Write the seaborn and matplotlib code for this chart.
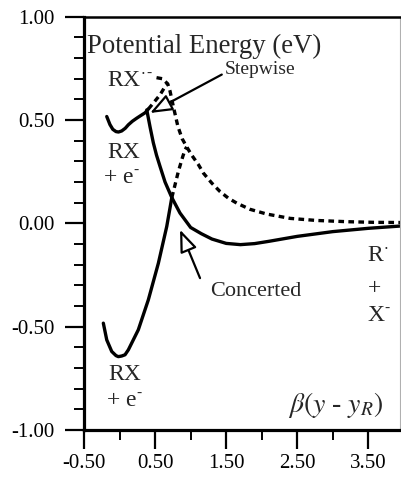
import matplotlib
matplotlib.use("Agg")
import matplotlib.pyplot as plt
import seaborn as sns
from matplotlib.ticker import FixedLocator, MultipleLocator

# Reaction coordinate beta(y - y_R) and potential energy (eV) of each branch

# RX + e-, upper (stepwise) diabatic curve, solid part
upper_rx_x = [-0.18, -0.135, -0.095, -0.05, -0.015, 0.03, 0.08, 0.124, 0.18, 0.242, 0.30, 0.359, 0.405]
upper_rx_y = [0.517, 0.478, 0.455, 0.444, 0.442, 0.447, 0.46, 0.477, 0.494, 0.509, 0.522, 0.535, 0.553]
# its dotted continuation up to the RX.- curve
upper_rx_ext_x = [0.405, 0.475, 0.57, 0.64, 0.678]
upper_rx_ext_y = [0.553, 0.582, 0.622, 0.662, 0.675]

# RX.- radical anion curve (dotted), dissociating towards R. + X-
anion_x = [0.52, 0.60, 0.678, 0.71, 0.757, 0.82, 0.88, 0.945, 1.015, 1.108, 1.18, 1.297,
           1.413, 1.53, 1.648, 1.835, 2.07, 2.4, 2.77, 3.2, 3.57, 3.95]
anion_y = [0.705, 0.70, 0.675, 0.64, 0.565, 0.47, 0.41, 0.37, 0.33, 0.285, 0.243, 0.195,
           0.154, 0.122, 0.098, 0.068, 0.045, 0.024, 0.014, 0.008, 0.005, 0.004]

# RX + e-, lower (concerted) curve, solid part
lower_rx_x = [-0.228, -0.18, -0.11, -0.05, -0.017, 0.03, 0.077, 0.124, 0.264, 0.405, 0.546, 0.664, 0.71, 0.735]
lower_rx_y = [-0.483, -0.564, -0.62, -0.64, -0.645, -0.642, -0.636, -0.612, -0.515, -0.370, -0.193, -0.015, 0.075, 0.125]
# its dotted continuation past the crossing
lower_rx_ext_x = [0.735, 0.757, 0.827, 0.889, 0.921, 0.945]
lower_rx_ext_y = [0.125, 0.154, 0.251, 0.323, 0.356, 0.37]

# R. + X- dissociative curve (solid)
concerted_x = [0.383, 0.43, 0.475, 0.52, 0.57, 0.64, 0.735, 0.85, 1.0, 1.15, 1.3, 1.5,
               1.7, 1.9, 2.1, 2.5, 3.0, 3.5, 3.95]
concerted_y = [0.549, 0.465, 0.39, 0.33, 0.275, 0.2, 0.125, 0.05, -0.02, -0.05, -0.076, -0.097,
               -0.103, -0.098, -0.087, -0.063, -0.040, -0.024, -0.013]

x_major_ticks = [-0.5, 0.5, 1.5, 2.5, 3.5]
x_minor_ticks = [0.0, 1.0, 2.0, 3.0]
x_tick_labels = ["-0.50", "0.50", "1.50", "2.50", "3.50"]
y_major_ticks = [-1.0, -0.5, 0.0, 0.5, 1.0]
y_tick_labels = ["-1.00", "-0.50", "0.00", "0.50", "1.00"]

sns.set_style("ticks")
plt.rcParams["font.family"] = ["Liberation Serif", "DejaVu Serif"]
plt.rcParams["mathtext.fontset"] = "stix"

fig = plt.figure(figsize=(4.01, 4.79), dpi=100)
ax = fig.add_axes([84 / 401, 1 - 430 / 479, (400 - 84) / 401, (430 - 16.7) / 479])

DOTS = (0, (1.7, 1.3))


def curve(x, y, dotted=False):
    sns.lineplot(x=x, y=y, ax=ax, sort=False, estimator=None, color="black",
                 lw=2.4, linestyle=DOTS if dotted else "-",
                 solid_joinstyle="round", solid_capstyle="round", legend=False)


curve(upper_rx_x, upper_rx_y)
curve(upper_rx_ext_x, upper_rx_ext_y, dotted=True)
curve(anion_x, anion_y, dotted=True)
curve(lower_rx_x, lower_rx_y)
curve(lower_rx_ext_x, lower_rx_ext_y, dotted=True)
curve(concerted_x, concerted_y)

ax.set_xlim(-0.5, 3.945)
ax.set_ylim(-1.0, 1.0)
ax.set_xlabel("")
ax.set_ylabel("")

ax.set_xticks(x_major_ticks)
ax.set_xticklabels(x_tick_labels)
ax.xaxis.set_minor_locator(FixedLocator(x_minor_ticks))
ax.set_yticks(y_major_ticks)
ax.set_yticklabels(y_tick_labels)
ax.yaxis.set_minor_locator(MultipleLocator(0.1))

ax.tick_params(which="major", direction="out", length=14, width=1.6,
               labelsize=15, color="black", labelcolor="black")
ax.tick_params(axis="y", which="major", pad=7)
ax.tick_params(axis="x", which="major", pad=3.5)
ax.tick_params(which="minor", direction="out", length=7, width=1.4, color="black")
ax.tick_params(top=False, right=False, which="both")

for side in ("left", "bottom"):
    ax.spines[side].set_linewidth(2.3)
    ax.spines[side].set_color("black")
ax.spines["top"].set_linewidth(1.8)
ax.spines["top"].set_color("black")
ax.spines["right"].set_linewidth(0.8)
ax.spines["right"].set_color("#b0b0b0")

# Species labels; charges are drawn as short raised hyphens
SUP_MINUS = r"$^{\text{-}}$"
ax.text(-0.455, 0.856, "Potential Energy (eV)", fontsize=19.3, ha="left", va="center")
ax.text(-0.176, 0.69, r"RX$^{\cdot\,\text{-}}$", fontsize=17, ha="left", va="center")
ax.text(-0.176, 0.345, "RX", fontsize=17, ha="left", va="center")
ax.text(-0.232, 0.22, "+ e" + SUP_MINUS, fontsize=17, ha="left", va="center")
ax.text(-0.155, -0.73, "RX", fontsize=17, ha="left", va="center")
ax.text(-0.194, -0.855, "+ e" + SUP_MINUS, fontsize=17, ha="left", va="center")
ax.text(3.48, -0.157, r"R$^{\cdot}$", fontsize=17, ha="left", va="center")
ax.text(3.49, -0.317, "+", fontsize=17, ha="left", va="center")
ax.text(3.48, -0.448, "X" + SUP_MINUS, fontsize=17, ha="left", va="center")
ax.text(3.71, -0.878, r"$\beta(y$ - $y_R)$", fontsize=20, ha="right", va="center")

ax.text(1.484, 0.743, "Stepwise", fontsize=14, ha="left", va="center")
ax.text(1.273, -0.33, "Concerted", fontsize=16, ha="left", va="center")

arrow_style = dict(arrowstyle="-|>,head_length=0.9,head_width=0.35", fc="white",
                   ec="black", lw=1.6, shrinkA=0, shrinkB=0, mutation_scale=15)
ax.annotate("", xy=(0.43, 0.534), xytext=(1.438, 0.72), arrowprops=arrow_style)
ax.annotate("", xy=(0.851, -0.031), xytext=(1.132, -0.265), arrowprops=arrow_style)

fig.savefig("out.png", dpi=100)
